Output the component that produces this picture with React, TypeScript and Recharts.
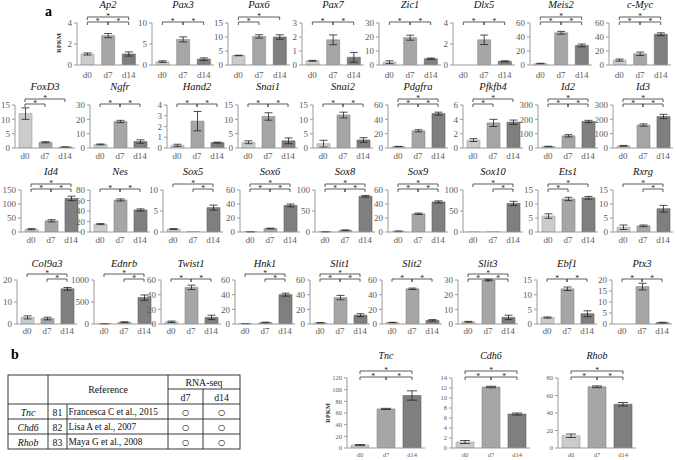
import React from 'react';
import { BarChart, Bar, XAxis, YAxis, ErrorBar, Cell, ReferenceLine } from 'recharts';

// ---------------- DATA ----------------
const categories = ['d0', 'd7', 'd14'];

// Row 1
const row1Genes = ['Ap2', 'Pax3', 'Pax6', 'Pax7', 'Zic1', 'Dlx5', 'Meis2', 'c-Myc'];
const row1Means = [
  [1.05, 2.8, 1.05], [0.8, 6.1, 1.4], [3.4, 10.2, 10.0], [0.3, 1.8, 0.55],
  [2, 19.5, 4.5], [0, 2.4, 0.35], [2, 46, 28], [7, 16, 44],
];
const row1Errors = [
  [0.1, 0.2, 0.2], [0.2, 0.6, 0.3], [0.1, 0.6, 0.8], [0.03, 0.35, 0.35],
  [1, 1.8, 0.5], [0, 0.45, 0.05], [0.5, 2, 2], [1.5, 2.5, 2],
];
const row1Ticks = [
  [0, 2, 4], [0, 5, 10], [0, 5, 10, 15], [0, 1, 2, 3],
  [0, 10, 20, 30], [0, 2, 4], [0, 20, 40, 60], [0, 20, 40, 60],
];
const row1Brackets = [
  ['d0-d14', 'd0-d7', 'd7-d14'], ['d0-d7', 'd7-d14'], ['d0-d14', 'd0-d7'], ['d0-d7', 'd7-d14'],
  ['d0-d7', 'd7-d14'], ['d0-d7', 'd7-d14'], ['d0-d14', 'd0-d7', 'd7-d14'], ['d0-d14', 'd0-d7', 'd7-d14'],
];

// Row 2
const row2Genes = ['FoxD3', 'Ngfr', 'Hand2', 'Snai1', 'Snai2', 'Pdgfra', 'Pfkfb4', 'Id2', 'Id3'];
const row2Means = [
  [12, 2, 0.3], [2.5, 18.5, 4.5], [0.25, 2.5, 0.5], [2, 11, 2.5], [1.5, 11.5, 2.8],
  [2, 24, 48], [1.1, 3.5, 3.6], [10, 85, 185], [15, 160, 220],
];
const row2Errors = [
  [2, 0.2, 0.1], [0.3, 0.8, 1.2], [0.1, 0.9, 0.05], [0.5, 1.3, 1], [1.2, 1, 0.8],
  [0.3, 1.5, 2], [0.2, 0.5, 0.3], [2, 8, 8], [3, 8, 15],
];
const row2Ticks = [
  [0, 5, 10, 15], [0, 10, 20, 30], [0, 1, 2, 3, 4], [0, 5, 10, 15], [0, 5, 10, 15],
  [0, 20, 40, 60], [0, 2, 4, 6], [0, 100, 200, 300], [0, 100, 200, 300],
];
const row2Brackets = [
  ['d0-d14', 'd0-d7'], ['d0-d7', 'd7-d14'], ['d0-d7', 'd7-d14'], ['d0-d7', 'd7-d14'], ['d0-d7', 'd7-d14'],
  ['d0-d14', 'd0-d7', 'd7-d14'], ['d0-d14', 'd0-d7'], ['d0-d14', 'd0-d7', 'd7-d14'], ['d0-d14', 'd0-d7', 'd7-d14'],
];

// Row 3
const row3Genes = ['Id4', 'Nes', 'Sox5', 'Sox6', 'Sox8', 'Sox9', 'Sox10', 'Ets1', 'Rxrg'];
const row3Means = [
  [10, 40, 120], [15, 61, 42], [0.7, 0.05, 5.8], [0.3, 5, 38], [0.5, 4, 85],
  [1, 26, 43], [0.3, 0.3, 68], [5.7, 11.8, 12.2], [1.7, 2.2, 8.3],
];
const row3Errors = [
  [2, 4, 8], [1, 2, 2], [0.1, 0, 0.6], [0.1, 0.5, 2], [0.2, 1, 2],
  [0.5, 1, 1.5], [0, 0, 5], [0.8, 0.6, 0.5], [0.8, 0.3, 1.2],
];
const row3Ticks = [
  [0, 50, 100, 150], [0, 20, 40, 60, 80], [0, 5, 10], [0, 20, 40, 60], [0, 50, 100],
  [0, 20, 40, 60], [0, 50, 100], [0, 5, 10, 15], [0, 5, 10, 15],
];
const row3Brackets = [
  ['d0-d14', 'd0-d7', 'd7-d14'], ['d0-d7', 'd7-d14'], ['d0-d14', 'd7-d14'], ['d0-d14', 'd0-d7', 'd7-d14'],
  ['d0-d14', 'd0-d7', 'd7-d14'], ['d0-d14', 'd0-d7', 'd7-d14'], ['d0-d14', 'd7-d14'], ['d0-d14', 'd0-d7'],
  ['d0-d14', 'd7-d14'],
];

// Row 4
const row4Genes = ['Col9a3', 'Ednrb', 'Twist1', 'Hnk1', 'Slit1', 'Slit2', 'Slit3', 'Ebf1', 'Ptx3'];
const row4Means = [
  [3, 2.5, 16], [5, 40, 600], [3, 50, 9], [0.5, 2, 40], [1.5, 36, 12],
  [2, 48, 5], [1.5, 30, 4.5], [2.2, 12, 3.5], [0, 17, 0.6],
];
const row4Errors = [
  [0.7, 0.6, 0.6], [2, 10, 60], [1, 3, 3], [0.1, 0.5, 2], [0.5, 3, 2],
  [0.3, 1, 1], [0.3, 0.5, 1.5], [0.2, 0.6, 1], [0, 1.5, 0.2],
];
const row4Ticks = [
  [0, 10, 20], [0, 500, 1000], [0, 20, 40, 60], [0, 20, 40, 60], [0, 20, 40, 60],
  [0, 20, 40, 60], [0, 10, 20, 30], [0, 5, 10, 15], [0, 5, 10, 15, 20],
];
const row4Brackets = [
  ['d0-d14', 'd7-d14'], ['d0-d14', 'd7-d14'], ['d0-d7', 'd7-d14'], ['d0-d14', 'd7-d14'],
  ['d0-d14', 'd0-d7', 'd7-d14'], ['d0-d7', 'd7-d14'], ['d0-d14', 'd0-d7', 'd7-d14'], ['d0-d7', 'd7-d14'],
  ['d0-d7', 'd7-d14'],
];

// Part b charts
const partBGenes = ['Tnc', 'Cdh6', 'Rhob'];
const partBMeans = [[5, 67, 90], [1.2, 12.2, 6.8], [14, 70, 50]];
const partBErrors = [[1, 1, 8], [0.3, 0.15, 0.2], [2, 1, 2]];
const partBTicks = [
  [0, 20, 40, 60, 80, 100, 120], [0, 2, 4, 6, 8, 10, 12, 14], [0, 20, 40, 60, 80],
];
const partBBrackets = [
  ['d0-d14', 'd0-d7', 'd7-d14'], ['d0-d14', 'd0-d7', 'd7-d14'], ['d0-d14', 'd0-d7', 'd7-d14'],
];

// Part b table
const tableGenes = ['Tnc', 'Chd6', 'Rhob'];
const tableRefNumbers = ['81', '82', '83'];
const tableCitations = ['Francesca C et al., 2015', 'Lisa A et al., 2007', 'Maya G et al., 2008'];
const tableD7 = ['○', '○', '○'];
const tableD14 = ['○', '○', '○'];

// ---------------- LAYOUT / STYLE ----------------
const SERIF = "'Liberation Serif', 'DejaVu Serif', serif";
const barColors = ['#cbcbcb', '#a6a6a6', '#7f7f7f'];
const barStrokes = ['#a0a0a0', '#888888', '#606060'];
const axisColor = '#9a9a9a';
const tickColor = '#5a5a5a';

const row1AxisX = [77, 152, 228, 302, 379, 453, 530, 609];
const row2AxisX = [15, 90, 167, 238, 313, 388, 463, 538, 613];
const row3AxisX = [21, 90, 163, 240, 315, 388, 463, 538, 613];
const row4AxisX = [17, 94, 161, 235, 310, 382, 458, 537, 612];
const partBAxisX = [347, 452, 558];

type RowGeom = {
  titleY: number; topY: number; zeroY: number; labelGap: number; topLevel: number;
  fs: number; titleFs: number; plotW: number; barSize: number; errW: number; starFs: number;
};
const row1Geom: RowGeom = { titleY: 6, topY: 23, zeroY: 65, labelGap: 4, topLevel: 6, fs: 9, titleFs: 10.5, plotW: 62, barSize: 13, errW: 4, starFs: 7.5 };
const row2Geom: RowGeom = { titleY: 88, topY: 105, zeroY: 148, labelGap: 2, topLevel: 6, fs: 9, titleFs: 10.5, plotW: 60, barSize: 13, errW: 4, starFs: 7.5 };
const row3Geom: RowGeom = { titleY: 172.5, topY: 190, zeroY: 232, labelGap: 2, topLevel: 6, fs: 9, titleFs: 10.5, plotW: 60, barSize: 13, errW: 4, starFs: 7.5 };
const row4Geom: RowGeom = { titleY: 264.5, topY: 280, zeroY: 324, labelGap: 1, topLevel: 6, fs: 9, titleFs: 10.5, plotW: 60, barSize: 13, errW: 4, starFs: 7.5 };
const partBGeom: RowGeom = { titleY: 356, topY: 378, zeroY: 448, labelGap: 1, topLevel: 7, fs: 6.5, titleFs: 10, plotW: 78, barSize: 18, errW: 5, starFs: 7.5 };

type PanelProps = {
  title: string; means: number[]; errors: number[]; ticks: number[]; brackets: string[];
  axisX: number; g: RowGeom;
};

function Panel({ title, means, errors, ticks, brackets, axisX, g }: PanelProps) {
  const yW = 30;
  const mTop = 16;
  const xH = 18;
  const plotH = g.zeroY - g.topY;
  const width = yW + g.plotW + 2;
  const height = mTop + plotH + xH;
  const max = ticks[ticks.length - 1];
  const u = max / plotH;
  const data = categories.map((c, i) => ({
    cat: c,
    v: means[i],
    e: errors[i] > 0 ? errors[i] : null,
  }));
  const hasTop = brackets.includes('d0-d14') && brackets.length > 1;
  const refs: React.ReactNode[] = [];
  brackets.forEach((b) => {
    const [a, z] = b.split('-');
    const level = b === 'd0-d14' && hasTop ? g.topLevel : 1;
    const yv = max + level * u;
    const yd = yv - 3 * u;
    const common = { stroke: '#333', strokeWidth: 0.8, ifOverflow: 'visible' as const };
    refs.push(
      <ReferenceLine key={b + 'h'} segment={[{ x: a, y: yv }, { x: z, y: yv }]} {...common}
        label={{ value: '*', position: 'top', offset: -2, fontSize: g.starFs, fill: '#222', fontFamily: SERIF }} />
    );
    refs.push(<ReferenceLine key={b + 'l'} segment={[{ x: a, y: yv }, { x: a, y: yd }]} {...common} />);
    refs.push(<ReferenceLine key={b + 'r'} segment={[{ x: z, y: yv }, { x: z, y: yd }]} {...common} />);
  });
  return (
    <>
      <div style={{
        position: 'absolute', left: axisX + g.plotW / 2 - 50, width: 100, textAlign: 'center',
        top: g.titleY - g.titleFs * 0.55, fontSize: g.titleFs, lineHeight: 1, fontStyle: 'italic',
        fontFamily: SERIF, color: '#111',
      }}>{title}</div>
      <div style={{ position: 'absolute', left: axisX - yW, top: g.topY - mTop }}>
        <BarChart width={width} height={height} data={data}
          margin={{ top: mTop, right: 2, left: 0, bottom: 0 }} accessibilityLayer={false}>
          <XAxis dataKey="cat" interval={0} tickLine={false} axisLine={{ stroke: axisColor }}
            tick={{ fontSize: g.fs, fill: tickColor, fontFamily: SERIF }} tickSize={3}
            tickMargin={g.labelGap} height={xH} />
          <YAxis width={yW} domain={[0, max]} ticks={ticks} interval={0} allowDataOverflow
            axisLine={{ stroke: axisColor }} tickLine={{ stroke: axisColor }} tickSize={3} tickMargin={2}
            tick={{ fontSize: g.fs, fill: tickColor, fontFamily: SERIF }} />
          <Bar dataKey="v" barSize={g.barSize} isAnimationActive={false}>
            {data.map((d, i) => (
              <Cell key={d.cat} fill={barColors[i]} stroke={barStrokes[i]} strokeWidth={0.6} />
            ))}
            <ErrorBar dataKey="e" width={g.errW} stroke="#222" strokeWidth={0.8} direction="y" />
          </Bar>
          {refs}
        </BarChart>
      </div>
    </>
  );
}

function Row({ genes, means, errors, ticks, brackets, axes, g }: {
  genes: string[]; means: number[][]; errors: number[][]; ticks: number[][]; brackets: string[][];
  axes: number[]; g: RowGeom;
}) {
  return (
    <>
      {genes.map((gene, i) => (
        <Panel key={gene} title={gene} means={means[i]} errors={errors[i]} ticks={ticks[i]}
          brackets={brackets[i]} axisX={axes[i]} g={g} />
      ))}
    </>
  );
}

function RefTable() {
  const ox = 0, oy = 370;
  const x0 = 8, x1 = 48, x2 = 67, x3 = 168, x4 = 203, x5 = 240;
  const yTop = 375, ySub = 389, yHead = 404, rowH = 15;
  const yBottom = yHead + rowH * 3;
  const fs = 9.8;
  const ln = { stroke: '#222', strokeWidth: 0.9 };
  return (
    <svg width={250} height={90} style={{ position: 'absolute', left: ox, top: oy }}
      viewBox={`${ox} ${oy} 250 90`}>
      <rect x={x0} y={yTop} width={x5 - x0} height={yBottom - yTop} fill="none" {...ln} />
      <line x1={x1} y1={yTop} x2={x1} y2={yBottom} {...ln} />
      <line x1={x2} y1={yHead} x2={x2} y2={yBottom} {...ln} />
      <line x1={x3} y1={yTop} x2={x3} y2={yBottom} {...ln} />
      <line x1={x4} y1={ySub} x2={x4} y2={yBottom} {...ln} />
      <line x1={x3} y1={ySub} x2={x5} y2={ySub} {...ln} />
      <line x1={x0} y1={yHead} x2={x5} y2={yHead} {...ln} />
      {[1, 2].map((k) => (
        <line key={k} x1={x0} y1={yHead + rowH * k} x2={x5} y2={yHead + rowH * k} {...ln} />
      ))}
      <g fontFamily={SERIF} fontSize={fs} fill="#111">
        <text x={(x1 + x3) / 2} y={(yTop + yHead) / 2} textAnchor="middle" dominantBaseline="central">Reference</text>
        <text x={(x3 + x5) / 2} y={(yTop + ySub) / 2 + 0.5} textAnchor="middle" dominantBaseline="central">RNA-seq</text>
        <text x={(x3 + x4) / 2} y={(ySub + yHead) / 2 + 0.5} textAnchor="middle" dominantBaseline="central">d7</text>
        <text x={(x4 + x5) / 2} y={(ySub + yHead) / 2 + 0.5} textAnchor="middle" dominantBaseline="central">d14</text>
        {tableGenes.map((gname, i) => {
          const cy = yHead + rowH * i + rowH / 2 + 0.5;
          return (
            <g key={gname}>
              <text x={(x0 + x1) / 2} y={cy} textAnchor="middle" dominantBaseline="central" fontStyle="italic">{gname}</text>
              <text x={(x1 + x2) / 2} y={cy} textAnchor="middle" dominantBaseline="central">{tableRefNumbers[i]}</text>
              <text x={x2 + 1.5} y={cy} dominantBaseline="central" fontSize={9.3}>{tableCitations[i]}</text>
              <text x={(x3 + x4) / 2} y={cy} textAnchor="middle" dominantBaseline="central" fontSize={14} fontFamily="'DejaVu Sans', sans-serif" fontWeight={300}>{tableD7[i]}</text>
              <text x={(x4 + x5) / 2} y={cy} textAnchor="middle" dominantBaseline="central" fontSize={14} fontFamily="'DejaVu Sans', sans-serif" fontWeight={300}>{tableD14[i]}</text>
            </g>
          );
        })}
      </g>
    </svg>
  );
}

function VerticalLabel({ text, cx, cy, fs }: { text: string; cx: number; cy: number; fs: number }) {
  return (
    <svg width={14} height={40} style={{ position: 'absolute', left: cx - 7, top: cy - 20 }}>
      <text x={7} y={20} transform="rotate(-90 7 20)" textAnchor="middle" dominantBaseline="central"
        fontSize={fs} fontWeight="bold" fontFamily={SERIF} fill="#333">{text}</text>
    </svg>
  );
}

export default function App() {
  return (
    <div style={{
      position: 'fixed', left: 0, top: 0, width: 677, height: 460, background: '#fff',
      overflow: 'hidden', fontFamily: SERIF,
    }}>
      <div style={{ position: 'absolute', left: 45, top: 5, fontSize: 14, fontWeight: 'bold', lineHeight: 1 }}>a</div>
      <div style={{ position: 'absolute', left: 11, top: 348, fontSize: 14, fontWeight: 'bold', lineHeight: 1 }}>b</div>
      <VerticalLabel text="RPKM" cx={58} cy={43} fs={6.5} />
      <VerticalLabel text="RPKM" cx={327} cy={413} fs={6.5} />
      <Row genes={row1Genes} means={row1Means} errors={row1Errors} ticks={row1Ticks} brackets={row1Brackets} axes={row1AxisX} g={row1Geom} />
      <Row genes={row2Genes} means={row2Means} errors={row2Errors} ticks={row2Ticks} brackets={row2Brackets} axes={row2AxisX} g={row2Geom} />
      <Row genes={row3Genes} means={row3Means} errors={row3Errors} ticks={row3Ticks} brackets={row3Brackets} axes={row3AxisX} g={row3Geom} />
      <Row genes={row4Genes} means={row4Means} errors={row4Errors} ticks={row4Ticks} brackets={row4Brackets} axes={row4AxisX} g={row4Geom} />
      <Row genes={partBGenes} means={partBMeans} errors={partBErrors} ticks={partBTicks} brackets={partBBrackets} axes={partBAxisX} g={partBGeom} />
      <RefTable />
    </div>
  );
}
